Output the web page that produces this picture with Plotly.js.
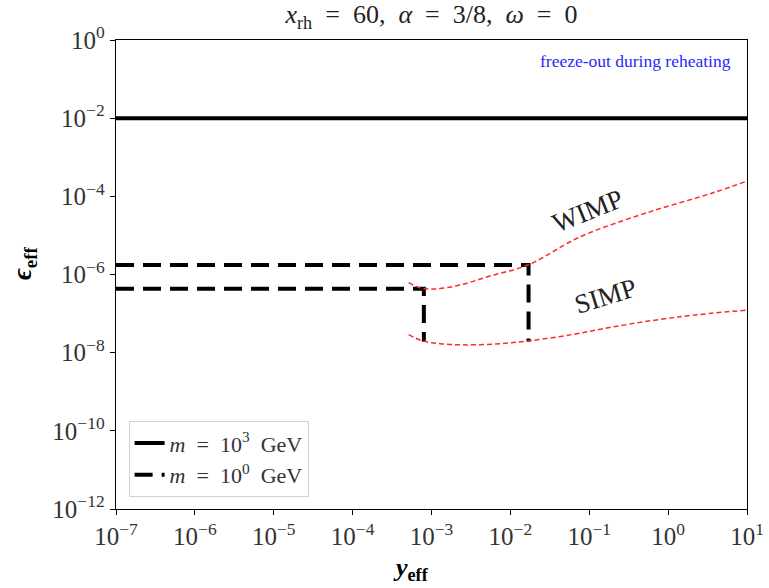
<!DOCTYPE html>
<html>
<head>
<meta charset="utf-8">
<script src="https://cdn.plot.ly/plotly-3.0.1.min.js"></script>
<style>body{margin:0;padding:0;background:#fff;} #chart{width:769px;height:588px;}</style>
</head>
<body>
<div id="chart"></div>
<script>
// Solid line m = 10^3 GeV
const heavyX = [1e-7, 10];
const heavyY = [1e-2, 1e-2];
// Dashed boxes m = 10^0 GeV
const lightUpperX = [1e-7, 0.017, 0.017];
const lightUpperY = [1.75e-6, 1.75e-6, 1.9e-8];
const lightLowerX = [1e-7, 8e-4, 8e-4];
const lightLowerY = [4.3e-7, 4.3e-7, 1.9e-8];
// WIMP curve (log10 values)
const wimpLogX = [-3.29, -3.15, -2.96, -2.64, -2.26, -1.77, -1.12, -0.27, 0.57, 1.0];
const wimpLogY = [-6.21, -6.34, -6.37, -6.27, -6.04, -5.75, -5.04, -4.42, -3.91, -3.61];
// SIMP curve
const simpLogX = [-3.29, -3.11, -2.89, -2.60, -2.20, -1.77, -1.20, -0.70, 0.15, 1.0];
const simpLogY = [-7.54, -7.70, -7.77, -7.80, -7.78, -7.70, -7.53, -7.34, -7.08, -6.91];

const xTickVals = [1e-7,1e-6,1e-5,1e-4,1e-3,1e-2,1e-1,1,10];
const xTickText = ['10<sup>−7</sup>','10<sup>−6</sup>','10<sup>−5</sup>','10<sup>−4</sup>','10<sup>−3</sup>','10<sup>−2</sup>','10<sup>−1</sup>','10<sup>0</sup>','10<sup>1</sup>'];
const yTickVals = [1e-12,1e-10,1e-8,1e-6,1e-4,1e-2,1];
const yTickText = ['10<sup>−12</sup>','10<sup>−10</sup>','10<sup>−8</sup>','10<sup>−6</sup>','10<sup>−4</sup>','10<sup>−2</sup>','10<sup>0</sup>'];

const pow10 = a => a.map(v => Math.pow(10, v));
const serif = 'Liberation Serif, DejaVu Serif, serif';

const traces = [
  {x: heavyX, y: heavyY, mode: 'lines', name: '<i>m</i>  =  10<sup>3</sup>  GeV',
   line: {color: 'black', width: 4}},
  {x: lightUpperX, y: lightUpperY, mode: 'lines', name: '<i>m</i>  =  10<sup>0</sup>  GeV',
   line: {color: 'black', width: 4, dash: '18px,9px'}},
  {x: lightLowerX, y: lightLowerY, mode: 'lines', showlegend: false,
   line: {color: 'black', width: 4, dash: '18px,9px'}},
  {x: pow10(wimpLogX), y: pow10(wimpLogY), mode: 'lines', showlegend: false,
   line: {color: 'rgb(255,40,40)', width: 1.5, dash: '5px,3px', shape: 'spline'}},
  {x: pow10(simpLogX), y: pow10(simpLogY), mode: 'lines', showlegend: false,
   line: {color: 'rgb(255,40,40)', width: 1.5, dash: '5px,3px', shape: 'spline'}}
];

const layout = {
  width: 769, height: 588,
  margin: {l: 116, r: 22, t: 40, b: 79},
  paper_bgcolor: 'white', plot_bgcolor: 'white',
  font: {family: serif, color: 'black', size: 20},
  title: {text: '<i>x</i><sub>rh</sub>  =  60,  <i>α</i>  =  3/8,  <i>ω</i>  =  0',
          xref: 'paper', x: 0.5, xanchor: 'center', yref: 'container', y: 0.976, yanchor: 'middle',
          font: {size: 26, family: serif, color: '#222'}},
  xaxis: {type: 'log', range: [-7, 1], tickvals: xTickVals, ticktext: xTickText,
          showgrid: false, zeroline: false, showline: true, linecolor: 'black', linewidth: 1.3, mirror: true,
          ticks: 'outside', ticklen: 5, tickcolor: 'black', tickfont: {size: 25, color: '#333'}},
  yaxis: {type: 'log', range: [-12, 0], tickvals: yTickVals, ticktext: yTickText,
          showgrid: false, zeroline: false, showline: true, linecolor: 'black', linewidth: 1.3, mirror: true,
          ticks: 'outside', ticklen: 5, tickcolor: 'black', tickfont: {size: 25, color: '#333'}},
  legend: {x: 0.02, y: 0.025, xanchor: 'left', yanchor: 'bottom', bgcolor: 'white',
           bordercolor: '#d0d0d0', borderwidth: 1, font: {size: 22, color: '#333'}, tracegroupgap: 0},
  annotations: [
    {xref: 'paper', yref: 'paper', x: 0.4675, y: -0.128, xanchor: 'center', yanchor: 'middle', showarrow: false,
     text: '<b><i>y</i></b><sub><b>eff</b></sub>', font: {size: 26, color: 'black', family: serif}},
    {xref: 'paper', yref: 'paper', x: -0.146, y: 0.5245, xanchor: 'center', yanchor: 'middle', showarrow: false,
     textangle: -90, text: '<b><i>ϵ</i></b><sub><b>eff</b></sub>', font: {size: 27, color: 'black', family: serif}},
    {xref: 'paper', yref: 'paper', x: 0.978, y: 0.955, xanchor: 'right', yanchor: 'middle', showarrow: false,
     text: 'freeze-out during reheating', font: {size: 17.5, color: 'rgb(40,40,255)', family: serif}},
    {xref: 'x', yref: 'y', x: -1.02, y: -4.37, showarrow: false, textangle: -22,
     text: 'WIMP', font: {size: 27, color: '#222', family: serif}},
    {xref: 'x', yref: 'y', x: -0.79, y: -6.55, showarrow: false, textangle: -17,
     text: 'SIMP', font: {size: 27, color: '#222', family: serif}}
  ]
};

Plotly.newPlot('chart', traces, layout, {displayModeBar: false, staticPlot: true});
</script>
</body>
</html>
